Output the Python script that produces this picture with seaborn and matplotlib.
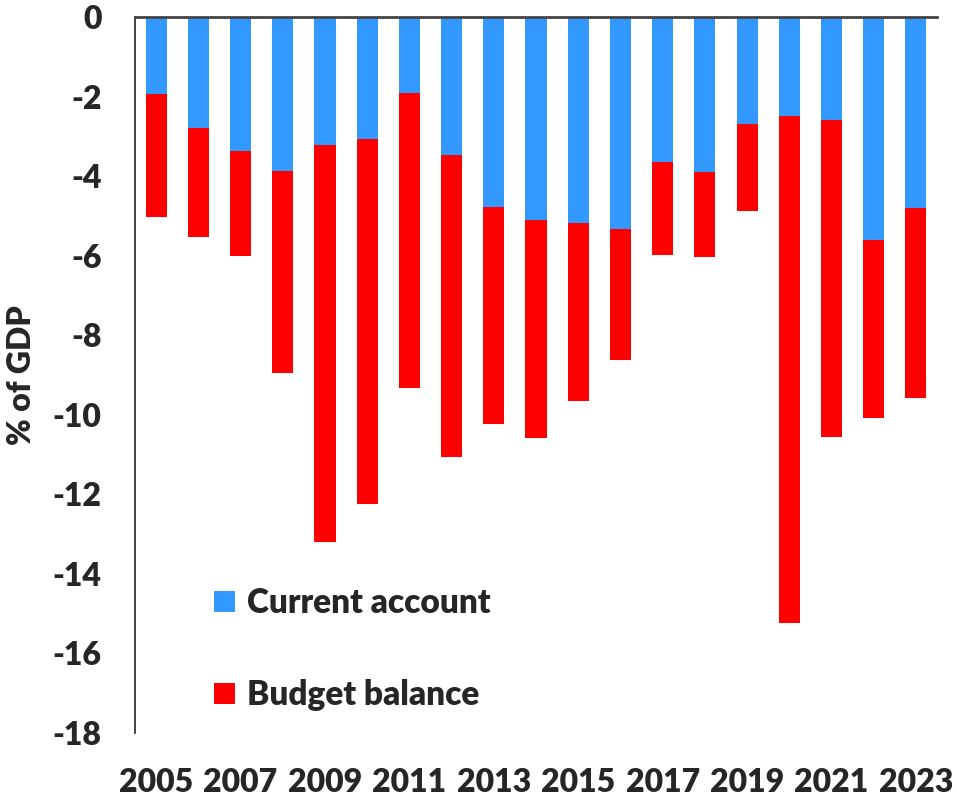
import numpy as np
import pandas as pd
import matplotlib
matplotlib.use("Agg")
import matplotlib.pyplot as plt
import seaborn as sns

# Annual balances, % of GDP
years = list(range(2005, 2024))
current_account = [-1.93, -2.80, -3.38, -3.87, -3.23, -3.06, -1.91, -3.47, -4.77, -5.11,
                   -5.17, -5.33, -3.64, -3.89, -2.68, -2.50, -2.58, -5.60, -4.79]
budget_balance = [-3.09, -2.74, -2.64, -5.08, -9.97, -9.19, -7.42, -7.58, -5.46, -5.48,
                  -4.49, -3.29, -2.35, -2.14, -2.19, -12.74, -7.98, -4.49, -4.80]
y_ticks = list(range(0, -19, -2))

BLUE = "#3399FF"
RED = "#FF0000"
WEIGHT = "heavy"

df = pd.DataFrame({
    "year": [str(y) for y in years],
    "current_account": current_account,
    "budget_balance": budget_balance,
})
# stacked: budget balance sits below the current account bar
df["combined"] = df["current_account"] + df["budget_balance"]

sns.set_style("white")
plt.rcParams["font.family"] = ["Lato", "DejaVu Sans"]
plt.rcParams["font.weight"] = WEIGHT

fig = plt.figure(figsize=(9.57, 7.97), dpi=100)
ax = fig.add_axes([135 / 957, 1 - 733 / 797, 802 / 957, 716 / 797])

sns.barplot(data=df, x="year", y="combined", color=RED, width=0.5,
            saturation=1, linewidth=0, ax=ax, label="Budget balance")
sns.barplot(data=df, x="year", y="current_account", color=BLUE, width=0.5,
            saturation=1, linewidth=0, ax=ax, label="Current account")

ax.set_xlim(-0.5, len(years) - 0.5)
ax.set_ylim(-18, 0)
ax.set_yticks(y_ticks)
ax.set_yticklabels([str(t) for t in y_ticks])
ax.set_xticks(range(0, len(years), 2))
ax.set_xticklabels([str(y) for y in years[::2]])

for side in ("right", "bottom"):
    ax.spines[side].set_visible(False)
ax.spines["top"].set_color("#444444")
ax.spines["top"].set_linewidth(2.0)
ax.spines["left"].set_color("#222222")
ax.spines["left"].set_linewidth(1.2)

ax.tick_params(axis="y", direction="in", length=8, width=1.0, color="#222222",
               pad=24, labelsize=23)
ax.tick_params(axis="x", length=0, pad=25, labelsize=23)
for lab in ax.get_xticklabels() + ax.get_yticklabels():
    lab.set_fontweight(WEIGHT)

ax.set_xlabel("")
ax.set_ylabel("% of GDP", fontsize=23, fontweight=WEIGHT)
ax.yaxis.set_label_coords(-0.141, 0.5)
ax.yaxis.label.set_va("center")

handles, labels = ax.get_legend_handles_labels()
order = [labels.index("Current account"), labels.index("Budget balance")]
leg = ax.legend([handles[i] for i in order], [labels[i] for i in order],
                loc="center left", bbox_to_anchor=(0.0985, 0.117),
                frameon=False, borderpad=0, borderaxespad=0,
                handlelength=0.63, handleheight=0.63, handletextpad=0.35,
                labelspacing=1.8, prop={"size": 24, "weight": WEIGHT})

fig.savefig("out.png", dpi=100)
